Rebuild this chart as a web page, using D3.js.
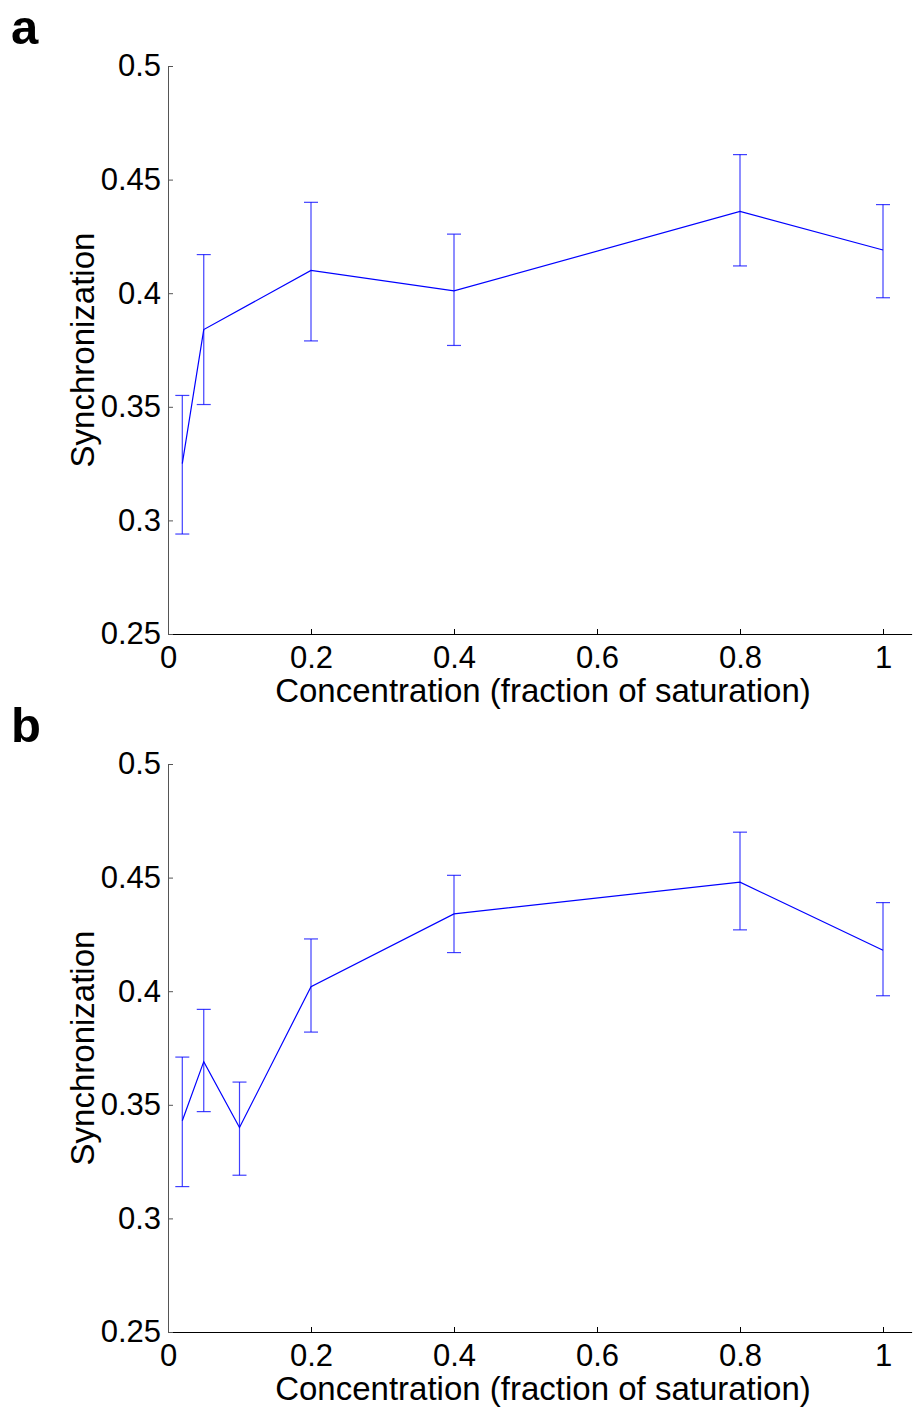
<!DOCTYPE html>
<html>
<head>
<meta charset="utf-8">
<script src="https://cdn.jsdelivr.net/npm/d3@7"></script>
<style>
  body { margin: 0; background: #fff; }
  text { font-family: Arial, "Liberation Sans", Helvetica, sans-serif; }
</style>
</head>
<body>
<div id="chart"></div>
<script>
// synchronization vs concentration, two panels (a, b)

// panel a
const concA  = [0.02, 0.05, 0.2, 0.4, 0.8, 1];
const syncA  = [0.325, 0.384, 0.410, 0.401, 0.436, 0.419];
const upperA = [0.355, 0.417, 0.440, 0.426, 0.461, 0.439];
const lowerA = [0.294, 0.351, 0.379, 0.377, 0.412, 0.398];

// panel b
const concB  = [0.02, 0.05, 0.1, 0.2, 0.4, 0.8, 1];
const syncB  = [0.343, 0.369, 0.340, 0.402, 0.434, 0.448, 0.418];
const upperB = [0.371, 0.392, 0.360, 0.423, 0.451, 0.470, 0.439];
const lowerB = [0.314, 0.347, 0.319, 0.382, 0.417, 0.427, 0.398];

const xTicks = [0, 0.2, 0.4, 0.6, 0.8, 1];
const yTicks = [0.25, 0.3, 0.35, 0.4, 0.45, 0.5];
const xTitle = "Concentration (fraction of saturation)";
const yTitle = "Synchronization";

const width = 913, height = 1410;

const svg = d3.select("#chart").append("svg")
    .attr("width", width)
    .attr("height", height);

svg.append("rect")
    .attr("width", width)
    .attr("height", height)
    .attr("fill", "white");

function drawPanel(top, label, conc, sync, upper, lower) {
    const x = d3.scaleLinear().domain([0, 1.04]).range([168, 911.6]);
    const y = d3.scaleLinear().domain([0.25, 0.5]).range([top + 568, top]);

    const g = svg.append("g");

    // axes (matlab style, ticks pointing in)
    const xAxis = d3.axisBottom(x)
        .tickValues(xTicks)
        .tickFormat(d3.format("~g"))
        .tickSizeInner(-5)
        .tickSizeOuter(0)
        .tickPadding(12);
    const yAxis = d3.axisLeft(y)
        .tickValues(yTicks)
        .tickFormat(d3.format("~g"))
        .tickSizeInner(-5)
        .tickSizeOuter(0)
        .tickPadding(7);

    const gx = g.append("g")
        .attr("transform", "translate(0," + (top + 568) + ")")
        .call(xAxis);
    const gy = g.append("g")
        .attr("transform", "translate(168,0)")
        .call(yAxis);

    [gx, gy].forEach(a => {
        a.selectAll("text")
            .attr("fill", "black")
            .style("font-size", "31px");
        a.attr("font-family", null);
    });
    gx.selectAll("line, path").attr("stroke", "black");
    gy.selectAll("line, path").attr("stroke", "#555");

    // error bars
    const cap = 7;
    const eb = g.append("g")
        .attr("stroke", "#0000ff")
        .attr("stroke-width", 1.2)
        .attr("stroke-opacity", 0.75);
    conc.forEach((c, i) => {
        eb.append("line")
            .attr("x1", x(c)).attr("x2", x(c))
            .attr("y1", y(lower[i])).attr("y2", y(upper[i]));
        eb.append("line")
            .attr("x1", x(c) - cap).attr("x2", x(c) + cap)
            .attr("y1", y(upper[i])).attr("y2", y(upper[i]));
        eb.append("line")
            .attr("x1", x(c) - cap).attr("x2", x(c) + cap)
            .attr("y1", y(lower[i])).attr("y2", y(lower[i]));
    });

    // mean line
    const line = d3.line()
        .x((d, i) => x(conc[i]))
        .y(d => y(d));
    g.append("path")
        .datum(sync)
        .attr("d", line)
        .attr("fill", "none")
        .attr("stroke", "#0000ff")
        .attr("stroke-width", 1.2);

    // titles
    g.append("text")
        .attr("x", 543)
        .attr("y", top + 636)
        .attr("text-anchor", "middle")
        .style("font-size", "33px")
        .text(xTitle);

    g.append("text")
        .attr("transform", "translate(94," + (top + 284) + ") rotate(-90)")
        .attr("text-anchor", "middle")
        .style("font-size", "33px")
        .text(yTitle);

    g.append("text")
        .attr("x", 11)
        .attr("y", top - 22)
        .style("font-size", "49px")
        .style("font-weight", "bold")
        .text(label);
}

drawPanel(66, "a", concA, syncA, upperA, lowerA);
drawPanel(764, "b", concB, syncB, upperB, lowerB);
</script>
</body>
</html>
